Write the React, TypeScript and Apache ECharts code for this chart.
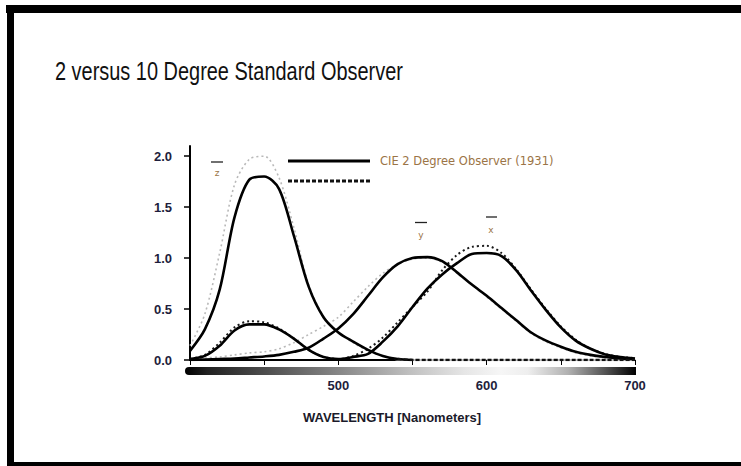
import React, { useEffect, useRef } from 'react';
import * as echarts from 'echarts';

const wavelengths = [400, 410, 420, 430, 440, 450, 460, 470, 480, 490, 500, 510, 520, 530, 540, 550, 560, 570, 580, 590, 600, 610, 620, 630, 640, 650, 660, 670, 680, 690, 700];

// CIE 1931 2 degree observer (solid)
const xBar2 = [0.01, 0.04, 0.14, 0.29, 0.35, 0.35, 0.30, 0.21, 0.10, 0.03, 0.01, 0.03, 0.06, 0.18, 0.33, 0.52, 0.70, 0.84, 0.95, 1.04, 1.05, 1.02, 0.88, 0.68, 0.49, 0.32, 0.19, 0.11, 0.055, 0.03, 0.015];
const yBar2 = [0, 0.005, 0.01, 0.015, 0.025, 0.035, 0.05, 0.08, 0.12, 0.21, 0.31, 0.45, 0.63, 0.81, 0.94, 1.00, 1.01, 0.97, 0.86, 0.74, 0.63, 0.51, 0.39, 0.27, 0.19, 0.13, 0.08, 0.05, 0.03, 0.015, 0.01];
const zBar2 = [0.09, 0.30, 0.69, 1.40, 1.77, 1.80, 1.68, 1.22, 0.72, 0.42, 0.27, 0.18, 0.10, 0.04, 0.01, 0, null, null, null, null, null, null, null, null, null, null, null, null, null, null, null];

// 10 degree observer (dotted / dashed)
const xBar10 = [0.01, 0.05, 0.17, 0.32, 0.38, 0.37, 0.31, 0.21, 0.10, 0.03, 0.01, 0.04, 0.11, 0.22, 0.37, 0.52, 0.67, 0.88, 1.03, 1.11, 1.12, 1.05, 0.89, 0.69, 0.50, 0.33, 0.20, 0.11, 0.06, 0.03, 0.02];
const yBar10 = [0, 0.02, 0.03, 0.05, 0.07, 0.08, 0.11, 0.17, 0.25, 0.33, 0.42, 0.57, 0.72, 0.85, 0.94, 0.99, 1.0, 0.96, 0.86, 0.74, 0.62, 0.50, 0.38, 0.26, 0.18, 0.12, 0.07, 0.04, 0.02, 0.01, 0.005];
const zBar10 = [0.14, 0.45, 1.05, 1.72, 1.97, 2.00, 1.79, 1.30, 0.74, 0.43, 0.27, 0.17, 0.09, 0.04, 0.01, 0, 0, 0, 0, 0, 0, 0, 0, 0, 0, 0, 0, 0, 0, 0, 0];

const yTickValues = [0, 0.5, 1, 1.5, 2];
const xLabelValues = [500, 600, 700];

const titleText = '2 versus 10 Degree Standard Observer';
const legendText = 'CIE 2 Degree Observer (1931)';
const xAxisName = 'WAVELENGTH [Nanometers]';

const pairs = (vals: (number | null)[], keep?: (w: number) => boolean) =>
  wavelengths
    .map((w, i) => [w, vals[i]] as [number, number | null])
    .filter((p) => p[1] !== null && (!keep || keep(p[0])));

export default function App() {
  const ref = useRef<HTMLDivElement>(null);

  useEffect(() => {
    document.body.style.margin = '0';
    document.body.style.overflow = 'hidden';
    const chart = echarts.init(ref.current as HTMLDivElement, null, { renderer: 'svg' });

    const labelColor = '#1e1e3c';
    const solid = { color: '#000', width: 2.6, type: 'solid' };
    const grayDot = { color: '#b9b9b9', width: 1.6, type: [2, 3] };
    const darkDot = { color: '#1a1a1a', width: 2, type: [2, 3] };
    const darkDash = { color: '#111', width: 2.5, type: [4, 2] };

    const line = (name: string, data: any[], lineStyle: any, z: number) => ({
      name,
      type: 'line',
      data,
      showSymbol: false,
      smooth: 0.3,
      lineStyle,
      z,
      silent: true,
    });

    const overbarText = (text: string, x: number, y: number) => ({
      type: 'text',
      x,
      y,
      style: { text, fontSize: 9, fontFamily: '"DejaVu Sans", sans-serif', fill: '#9b7446', align: 'center', verticalAlign: 'middle' },
    });
    const overbar = (x1: number, x2: number, y: number) => ({
      type: 'line',
      shape: { x1, y1: y, x2, y2: y },
      style: { stroke: '#222', lineWidth: 1.3 },
    });

    chart.setOption({
      animation: false,
      backgroundColor: '#fff',
      grid: { left: 190, top: 146, width: 445, height: 214 },
      xAxis: {
        type: 'value',
        min: 400,
        max: 700,
        interval: 50,
        axisLine: {
          show: true,
          lineStyle: {
            width: 2,
            color: new echarts.graphic.LinearGradient(
              190, 0, 635, 0,
              [
                { offset: 0, color: '#000' },
                { offset: 0.46, color: '#000' },
                { offset: 0.47, color: '#c4c4c4' },
                { offset: 1, color: '#c4c4c4' },
              ],
              true
            ),
          },
        },
        axisTick: { show: true, length: 5, lineStyle: { color: '#000', width: 1 } },
        axisLabel: {
          formatter: (v: number) => (xLabelValues.includes(v) ? String(v) : ''),
          margin: 19,
          fontSize: 13,
          fontWeight: 'bold',
          fontFamily: '"Liberation Sans", Arial, sans-serif',
          color: labelColor,
        },
        splitLine: { show: false },
      },
      yAxis: {
        type: 'value',
        min: 0,
        max: 2.1,
        interval: 0.5,
        axisLine: { show: true, lineStyle: { color: '#000', width: 2 } },
        axisTick: { show: true, length: 6, customValues: yTickValues, lineStyle: { color: '#000', width: 1.5 } },
        axisLabel: {
          customValues: yTickValues,
          formatter: (v: number) => v.toFixed(1),
          margin: 18,
          fontSize: 13,
          fontWeight: 'bold',
          fontFamily: '"Liberation Sans", Arial, sans-serif',
          color: labelColor,
        },
        splitLine: { show: false },
      },
      series: [
        line('z10', pairs(zBar10, (w) => w <= 540), grayDot, 2),
        line('y10', pairs(yBar10), grayDot, 2),
        line('x10', pairs(xBar10), darkDot, 3),
        line('z2', pairs(zBar2), solid, 4),
        line('y2', pairs(yBar2), solid, 4),
        line('x2', pairs(xBar2), solid, 4),
        line('z10 tail', pairs(zBar10, (w) => w >= 540), darkDash, 5),
      ],
      graphic: [
        // slide frame: top, left and bottom edges (right edge lies outside the picture)
        { type: 'rect', shape: { x: 6, y: 5, width: 735, height: 8 }, style: { fill: '#000' }, silent: true, z: 100 },
        { type: 'rect', shape: { x: 7, y: 5, width: 7, height: 461 }, style: { fill: '#000' }, silent: true, z: 100 },
        { type: 'rect', shape: { x: 7, y: 462, width: 734, height: 4 }, style: { fill: '#000' }, silent: true, z: 100 },
        {
          type: 'text',
          x: 55,
          y: 71.5,
          scaleX: 0.767,
          style: {
            text: titleText,
            fontSize: 26,
            fontFamily: '"Liberation Sans", Arial, sans-serif',
            fill: '#111',
            align: 'left',
            verticalAlign: 'middle',
          },
        },
        {
          type: 'rect',
          shape: { x: 185, y: 367, width: 451, height: 8, r: [4, 0, 0, 4] },
          style: {
            fill: new echarts.graphic.LinearGradient(0, 0, 1, 0, [
              { offset: 0, color: '#000' },
              { offset: 0.05, color: '#222' },
              { offset: 0.2, color: '#555' },
              { offset: 0.35, color: '#8a8a8a' },
              { offset: 0.5, color: '#c0c0c0' },
              { offset: 0.62, color: '#e6e6e6' },
              { offset: 0.7, color: '#f6f6f6' },
              { offset: 0.76, color: '#eeeeee' },
              { offset: 0.85, color: '#b0b0b0' },
              { offset: 0.93, color: '#555' },
              { offset: 1, color: '#000' },
            ]),
          },
        },
        {
          type: 'line',
          shape: { x1: 288, y1: 161, x2: 370, y2: 161 },
          style: { stroke: '#000', lineWidth: 3 },
        },
        {
          type: 'line',
          shape: { x1: 288, y1: 181, x2: 370, y2: 181 },
          style: { stroke: '#111', lineWidth: 3, lineDash: [4, 2] },
        },
        {
          type: 'text',
          x: 380,
          y: 161,
          style: {
            text: legendText,
            fontSize: 11.5,
            fontFamily: '"DejaVu Sans", sans-serif',
            fill: '#9b7446',
            verticalAlign: 'middle',
          },
        },
        overbar(211, 223, 162),
        overbarText('z', 217, 173),
        overbar(415, 427, 222.5),
        overbarText('y', 421, 235),
        overbar(486, 497, 217),
        overbarText('x', 491, 230),
        {
          type: 'text',
          x: 392,
          y: 417,
          style: {
            text: xAxisName,
            fontSize: 13,
            fontWeight: 'bold',
            fontFamily: '"Liberation Sans", Arial, sans-serif',
            fill: '#1a1a2a',
            align: 'center',
            verticalAlign: 'middle',
          },
        },
      ],
    });

    return () => chart.dispose();
  }, []);

  return (
    <div
      ref={ref}
      style={{ position: 'absolute', left: 0, top: 0, width: 741, height: 466, background: '#fff' }}
    />
  );
}
